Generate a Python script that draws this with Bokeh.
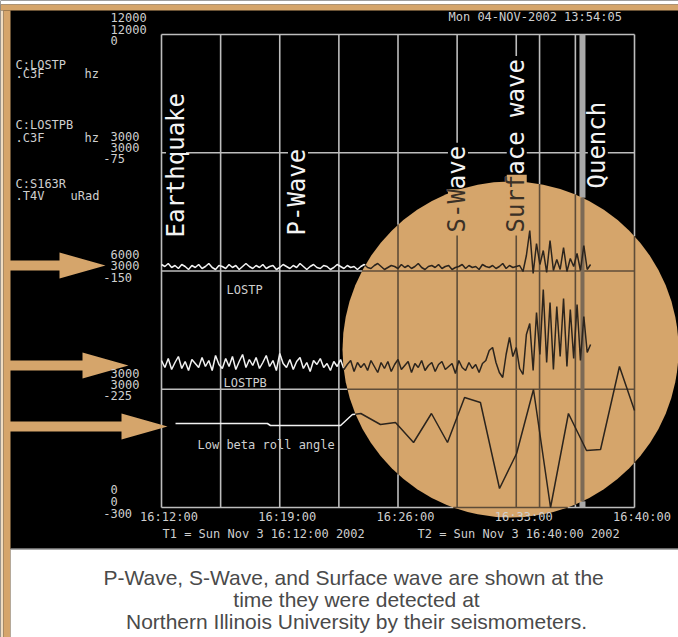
import numpy as np
from bokeh.plotting import figure
from bokeh.models import Range1d
from bokeh.core.properties import value
from bokeh.embed import file_html
from bokeh.resources import INLINE

# ---------------- data ----------------
time_ticks = [0, 7, 14, 21, 28]                      # minutes after 16:12:00
time_tick_labels = ["16:12:00", "16:19:00", "16:26:00", "16:33:00", "16:40:00"]
grid_minutes = [0, 3.5, 7, 10.5, 14, 17.5, 21, 24.5, 28]
grid_levels = [0, 1, 2, 3, 4]
marker_minutes = [22.38]
quench_minutes = [24.92]

event_names = ["Earthquake", "P-Wave", "S-Wave", "Surface wave", "Quench"]
event_minutes = [0.83, 8.05, 17.52, 21.0, 25.8]

channel_names = ["C:LOSTP", "C:LOSTPB", "C:S163R"]
channel_codes = [".C3F", ".C3F", ".T4V"]
channel_units = ["hz", "hz", "uRad"]
scale_labels = [["12000", "12000", "0"], ["3000", "3000", "-75"],
                ["6000", "3000", "-150"], ["3000", "3000", "-225"],
                ["0", "0", "-300"]]
trace_labels = ["LOSTP", "LOSTPB", "Low beta roll angle"]
footer_labels = ["T1 = Sun Nov  3 16:12:00 2002", "T2 = Sun Nov  3 16:40:00 2002"]
stamp_label = "Mon 04-NOV-2002 13:54:05"
caption_lines = ["P-Wave,  S-Wave, and Surface wave are shown at the",
                 "time they were detected at",
                 "Northern Illinois University by their seismometers."]

SAMPLE_MIN = 0.2
lostp_counts = [3, 1, 4, 0, 2, -1, 3, 1, -2, 2, 0, 3, -1, 1, 4, 0, -2, 2, 1, -1,
                3, 0, 2, -2, 1, 4, 1, -1, 2, 0, 3, -1, 1, 2, -2, 0, 3, 1, -1, 2,
                0, 4, 1, -2, 1, 3, 0, -1, 2, 1, -2, 0, 3, 1, -1, 2, 0, 1, -2, 1,
                3, 0, -1, 2, 4, 1, -2, 0, 2, 1, -1, 3, 0, 2, -1, 1, 4, 0, -2, 1,
                2, 0, 3, -1, 1, 2, -2, 0, 1, 3, -1, 2, 0, 1, -2, 3, 1, 0, 2, -1, 1, 4, -1, 2, 0, 1,
                2, -4, 12, 37, -6, 24, 3, 17, -5, 27, -3, 8, -2, 20, -4, 9, 1, 14, -3, 22, -2, 3]
lostpb_counts = [4, -3, 6, -5, 2, 8, -4, 3, -6, 5, 1, -3, 7, -2, 4, -6, 9, 0, -4, 6,
                 -2, 8, -5, 3, 10, -3, 5, -1, 7, -4, 2, 9, -2, 4, -6, 11, 1, -3, 5, -5,
                 3, 7, -4, 2, -7, 4, 0, 6, -3, 1, -6, 3, -2, 5, -5, 0, 4, -7, 2, -3,
                 1, -6, 4, -2, -8, 2, -4, 3, -7, 0, 5, -5, -1, 3, -8, 1, -3, 4, -6, -1,
                 2, -7, 0, 3, -5, -2, 1, -9, 4, -3, -6, 2, -4, 0, -8, 1,
                 4, 14, 17, 2, -8, -13, 10, 27, 8, 17, -4, -10, 30, 41, -6, 52, 10, 75, 2, 62,
                 -5, 58, 8, 66, -2, 55, 6, 60, 4, 48, 12, 20]
roll_minutes = [0.83, 6.27, 6.45, 10.6, 11.3, 11.8, 12.96, 13.85, 14.92, 15.98, 16.93,
                17.94, 18.88, 20.01, 21.02, 22.02, 23.03, 24.09, 25.16, 25.99, 27.11, 28.0]
roll_counts = [0, 0, -2, -2, 9, 10, -1, 1, -19, 10, -19, 26, 21, -65, -30, 34, -84, 10,
               -27, -26, 57, 13]

# ---------------- layout ----------------
W, H = 678, 637
PX_MIN = 473.0 / 28.0      # pixels per minute
PX_DIV = 118.25            # pixels per vertical division
X0, Y0 = 161.0, 507.0      # canvas position of (0 min, 0 div)


def X(px):
    return (px - X0) / PX_MIN


def Y(py):
    return (Y0 - py) / PX_DIV


LOSTP_BASE, LOSTPB_BASE, ROLL_BASE = Y(267), Y(364), Y(423)
CX, CY, R = 510.0, 349.0, 168.0

ORANGE = "#d5a56b"
CREAM = "#f0dcc0"
GRID_OUT, GRID_IN = "#bdbdbd", "#5e4c38"
TRACE_OUT, TRACE_IN = "#f2f2f2", "#2b241d"
TXT = "#cfcfcf"
MONO = value("DejaVu Sans Mono")


def inside(px, py):
    return (px - CX) ** 2 + (py - CY) ** 2 < R * R


def split(xs, ys):
    P = [(X0 + x * PX_MIN, Y0 - y * PX_DIV) for x, y in zip(xs, ys)]
    ins, outs = [], []
    cur = [(xs[0], ys[0])]
    state = inside(*P[0])
    for i in range(len(xs) - 1):
        ax, ay = P[i]
        bx, by = P[i + 1]
        dx, dy = bx - ax, by - ay
        a = dx * dx + dy * dy
        b = 2 * (dx * (ax - CX) + dy * (ay - CY))
        c = (ax - CX) ** 2 + (ay - CY) ** 2 - R * R
        ts = []
        if a > 0:
            disc = b * b - 4 * a * c
            if disc > 0:
                s = np.sqrt(disc)
                for t in sorted(((-b - s) / (2 * a), (-b + s) / (2 * a))):
                    if 0 < t < 1:
                        ts.append(t)
        for t in ts:
            q = (xs[i] + t * (xs[i + 1] - xs[i]), ys[i] + t * (ys[i + 1] - ys[i]))
            cur.append(q)
            (ins if state else outs).append(cur)
            cur = [q]
            state = not state
        cur.append((xs[i + 1], ys[i + 1]))
    (ins if state else outs).append(cur)
    return ins, outs


def gather(polylines):
    ins, outs = [], []
    for xs, ys in polylines:
        i, o = split(list(xs), list(ys))
        ins += i
        outs += o
    unz = lambda L: ([[q[0] for q in s] for s in L], [[q[1] for q in s] for s in L])
    return unz(ins), unz(outs)


p = figure(width=W, height=H, output_backend="svg", toolbar_location=None,
           x_range=Range1d(X(0), X(W)), y_range=Range1d(Y(H), Y(0)),
           x_axis_location=None, y_axis_location=None,
           min_border_left=0, min_border_top=0, min_border_right=0, min_border_bottom=0,
           background_fill_color="black", border_fill_color="black", outline_line_color=None)
p.grid.visible = False

# page frame: white top strip, orange top band, cream + orange left strip, white caption panel
p.quad(left=[X(0), X(0), X(0), X(3), X(10)],
       right=[X(W), X(W), X(3), X(10), X(W)],
       top=[Y(0), Y(4), Y(10), Y(10), Y(548.5)],
       bottom=[Y(4), Y(10), Y(H), Y(H), Y(H)],
       fill_color=["white", ORANGE, CREAM, ORANGE, "white"], line_color=None)
p.segment(x0=X(10), x1=X(W), y0=Y(548.5), y1=Y(548.5), line_color="#8c8c8c", line_width=1.5)

# grid + markers
grid_lines = [([g, g], [grid_levels[0], grid_levels[-1]]) for g in grid_minutes + marker_minutes]
grid_lines += [([grid_minutes[0], grid_minutes[-1]], [lv, lv]) for lv in grid_levels]
(gin_x, gin_y), (gout_x, gout_y) = gather(grid_lines)
(qin_x, qin_y), (qout_x, qout_y) = gather([([q, q], [grid_levels[0], grid_levels[-1]]) for q in quench_minutes])

# traces
t1 = np.arange(len(lostp_counts)) * SAMPLE_MIN
t2 = np.arange(len(lostpb_counts)) * SAMPLE_MIN
tr1 = (t1, LOSTP_BASE + np.array(lostp_counts) / PX_DIV)
tr2 = (t2, LOSTPB_BASE + np.array(lostpb_counts) / PX_DIV)
tr3 = (np.array(roll_minutes), ROLL_BASE + np.array(roll_counts) / PX_DIV)
(tin_x, tin_y), (tout_x, tout_y) = gather([tr1, tr2, tr3])

p.multi_line(gout_x, gout_y, line_color=GRID_OUT, line_width=1.6)
p.multi_line(qout_x, qout_y, line_color="#a9a9a9", line_width=6)
p.multi_line(tout_x, tout_y, line_color=TRACE_OUT, line_width=1.5)

# event labels (vertical, with black boxes that interrupt the grid)
EV_FS = 24
adv = 0.602 * EV_FS
ev_bottom = [237, 235, 232, 232, 188]
box_len = [len(n) * adv + 6 for n in event_names]
p.rect(x=[m + 0.5 / PX_MIN for m in event_minutes],
       y=[Y(b - L / 2 + 3) for b, L in zip(ev_bottom, box_len)],
       width=20, height=box_len, width_units="screen", height_units="screen",
       fill_color="black", line_color=None)
p.text(x=event_minutes, y=[Y(b) for b in ev_bottom], text=event_names, angle=np.pi / 2,
       text_align="left", text_baseline="middle", text_font=MONO, text_font_size=f"{EV_FS}px",
       text_color="#f4f4f4")

# orange circle overlay
p.ellipse(x=X(CX), y=Y(CY), width=2 * R / PX_MIN, height=2 * R / PX_DIV,
          fill_color=ORANGE, line_color=None)
p.multi_line(gin_x, gin_y, line_color=GRID_IN, line_width=1.6)
p.multi_line(qin_x, qin_y, line_color="#7c6a56", line_width=4)
p.multi_line(tin_x, tin_y, line_color=TRACE_IN, line_width=1.5)

# parts of event labels inside the circle
pre_x, pre_y, pre_t, pre_by, pre_len = [], [], [], [], []
for name, m, b in zip(event_names, event_minutes, ev_bottom):
    px = X0 + m * PX_MIN
    n = 0
    while n < len(name) and inside(px, b - (n + 0.5) * adv):
        n += 1
    if n:
        pre_x.append(m); pre_y.append(Y(b)); pre_t.append(name[:n])
        L = n * adv + 3
        pre_by.append(Y(b - L / 2 + 3)); pre_len.append(L)
if pre_t:
    p.rect(x=[m + 0.5 / PX_MIN for m in pre_x], y=pre_by, width=20, height=pre_len,
           width_units="screen", height_units="screen", fill_color=ORANGE, line_color=None)
    p.text(x=pre_x, y=pre_y, text=pre_t, angle=np.pi / 2, text_align="left",
           text_baseline="middle", text_font=MONO, text_font_size=f"{EV_FS}px",
           text_color="#3a3026")

# arrows
arrow_tips = [(105, 265), (128, 365), (167, 426)]
axs, ays = [], []
for tx, ty in arrow_tips:
    hx = tx - 46
    pts = [(8, ty - 5), (hx, ty - 5), (hx, ty - 13), (tx, ty), (hx, ty + 13), (hx, ty + 5), (8, ty + 5)]
    axs.append([X(a) for a, _ in pts]); ays.append([Y(b) for _, b in pts])
p.patches(axs, ays, fill_color=ORANGE, line_color=None)


# small screen texts
def mono(xs, ys, texts, align="left", color=TXT, size="12px"):
    p.text(x=[X(v) for v in xs], y=[Y(v) for v in ys], text=texts, text_font=MONO,
           text_font_size=size, text_color=color, text_align=align, text_baseline="middle")


CH = 7.3
scale_rows = [(17, 29, 40), (136, 147, 158), (254, 265, 277), (373, 384, 395), (489, 501, 513)]
sx, sy, st = [], [], []
for labels, rows in zip(scale_labels, scale_rows):
    for lab, r in zip(labels, rows):
        sx.append(110 - (CH if lab.startswith("-") else 0)); sy.append(r); st.append(lab)
mono(sx, sy, st)
mono([15, 15, 15], [64, 124, 183], channel_names)
mono([15, 15, 15], [73, 137, 195], channel_codes)
mono([84, 84, 70], [73, 137, 195], channel_units)
mono([226, 223, 197], [289, 382, 444], trace_labels)
mono([162, 417], [533, 533], footer_labels)
mono([448], [16], [stamp_label])
p.text(x=[t + 7.5 / PX_MIN for t in time_ticks], y=[Y(516)] * len(time_ticks), text=time_tick_labels,
       text_font=MONO, text_font_size="12px", text_color=TXT, text_align="center",
       text_baseline="middle")

# caption
p.text(x=[X(356)] * 3, y=[Y(577), Y(599), Y(621)], text=caption_lines,
       text_font=value("Liberation Sans"), text_font_size="21px", text_color="#4a4a4a",
       text_align="center", text_baseline="middle")

open("out.html", "w").write(file_html(p, INLINE))
